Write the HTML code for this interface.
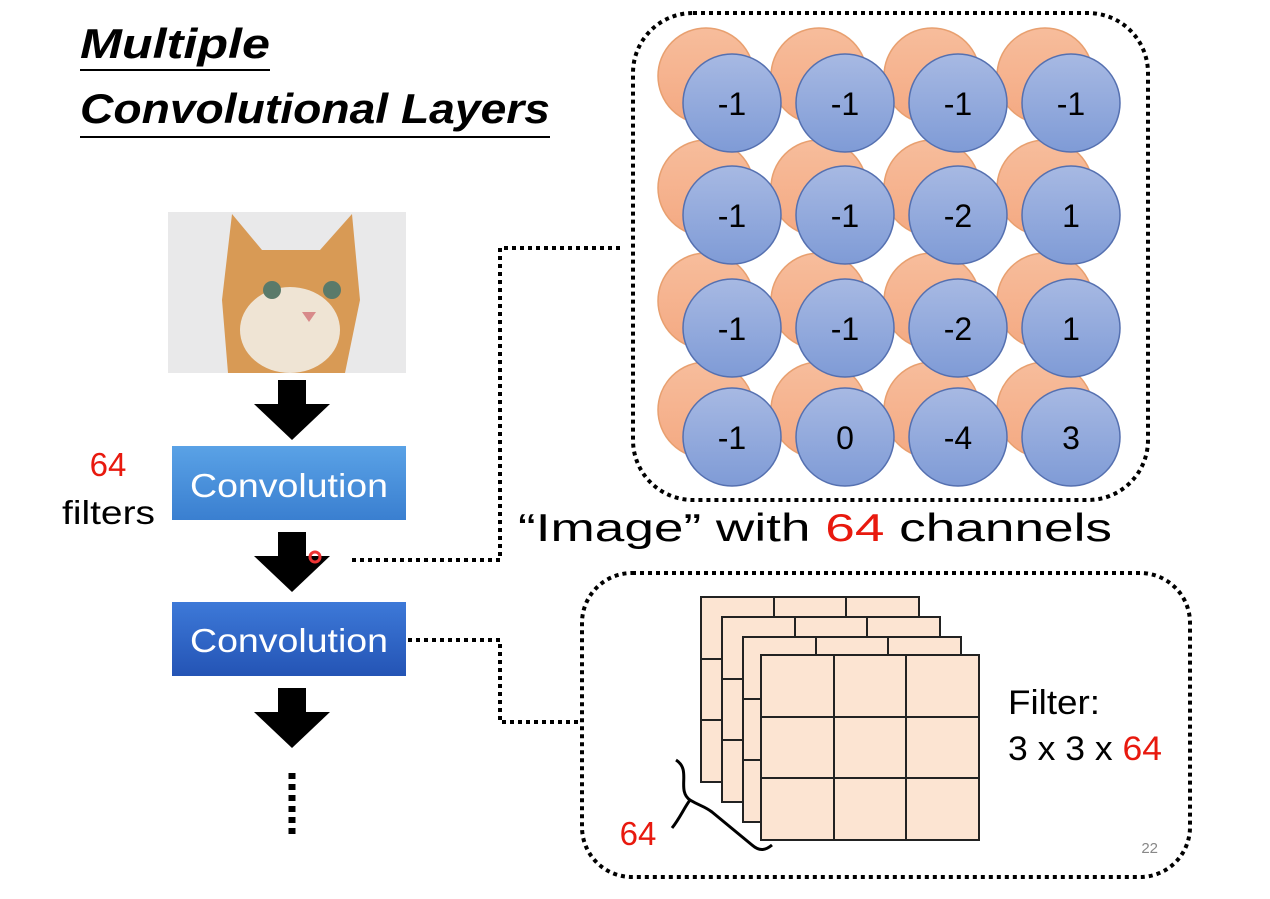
<!DOCTYPE html>
<html><head><meta charset="utf-8"><style>
body{margin:0;width:1270px;height:894px;background:#fff;overflow:hidden;font-family:"Liberation Sans","DejaVu Sans",sans-serif}
</style></head><body>
<svg width="1270" height="894" viewBox="0 0 1270 894" xmlns="http://www.w3.org/2000/svg">
<defs>
<linearGradient id="bg" x1="0" y1="0" x2="0" y2="1"><stop offset="0" stop-color="#a7b9e3"/><stop offset="1" stop-color="#7f9bd6"/></linearGradient>
<linearGradient id="og" x1="0" y1="0" x2="0" y2="1"><stop offset="0" stop-color="#f7bd9c"/><stop offset="1" stop-color="#f4a982"/></linearGradient>
<linearGradient id="cb1" x1="0" y1="0" x2="0" y2="1"><stop offset="0" stop-color="#5aa2e6"/><stop offset="1" stop-color="#3a7fd0"/></linearGradient>
<linearGradient id="cb2" x1="0" y1="0" x2="0" y2="1"><stop offset="0" stop-color="#3d79d8"/><stop offset="1" stop-color="#2454b5"/></linearGradient>
<g id="arr"><rect x="-14" y="0" width="28" height="26" fill="#000"/><polygon points="-38,24 38,24 0,60" fill="#000"/></g>
</defs>
<g font-style="italic" font-weight="bold" font-size="42" fill="#000">
<text x="80" y="58" textLength="190" lengthAdjust="spacingAndGlyphs">Multiple</text>
<line x1="80" y1="70" x2="270" y2="70" stroke="#000" stroke-width="2"/>
<text x="80" y="123" textLength="470" lengthAdjust="spacingAndGlyphs">Convolutional Layers</text>
<line x1="80" y1="137" x2="550" y2="137" stroke="#000" stroke-width="2"/>
</g>
<rect x="168" y="212" width="238" height="161" fill="#e9e9ea"/>
<path d="M232,214 L262,250 L320,250 L352,214 L360,300 L345,373 L228,373 L222,300 Z" fill="#d89a55"/>
<ellipse cx="290" cy="330" rx="50" ry="43" fill="#efe4d4"/>
<circle cx="272" cy="290" r="9" fill="#5a7a6a"/><circle cx="332" cy="290" r="9" fill="#5a7a6a"/>
<polygon points="302,312 316,312 309,322" fill="#d88a8a"/>
<use href="#arr" x="292" y="380"/>
<use href="#arr" x="292" y="532"/>
<use href="#arr" x="292" y="688"/>
<rect x="172" y="446" width="234" height="74" fill="url(#cb1)"/>
<text x="190" y="497" font-size="33" fill="#fff" textLength="198" lengthAdjust="spacingAndGlyphs">Convolution</text>
<rect x="172" y="602" width="234" height="74" fill="url(#cb2)"/>
<text x="190" y="652" font-size="33" fill="#fff" textLength="198" lengthAdjust="spacingAndGlyphs">Convolution</text>
<line x1="292" y1="773" x2="292" y2="835" stroke="#000" stroke-width="7" stroke-dasharray="6,5"/>
<text x="108" y="476" font-size="33" fill="#e8190e" text-anchor="middle">64</text>
<text x="62" y="524" font-size="33" fill="#000" textLength="93" lengthAdjust="spacingAndGlyphs">filters</text>
<circle cx="315" cy="557" r="5" fill="none" stroke="#e33" stroke-width="3"/>
<g fill="none" stroke="#000" stroke-width="4" stroke-dasharray="4,4">
<polyline points="352,560 500,560 500,248 620,248"/>
<polyline points="408,640 500,640 500,722 580,722"/>
<rect x="633" y="13" width="515" height="487" rx="60"/>
<rect x="582" y="573" width="608" height="304" rx="50"/>
</g>
<g stroke="#e8a070" stroke-width="1.5" fill="url(#og)">
<circle cx="706" cy="76" r="48"/><circle cx="819" cy="76" r="48"/><circle cx="932" cy="76" r="48"/><circle cx="1045" cy="76" r="48"/>
<circle cx="706" cy="188" r="48"/><circle cx="819" cy="188" r="48"/><circle cx="932" cy="188" r="48"/><circle cx="1045" cy="188" r="48"/>
<circle cx="706" cy="301" r="48"/><circle cx="819" cy="301" r="48"/><circle cx="932" cy="301" r="48"/><circle cx="1045" cy="301" r="48"/>
<circle cx="706" cy="410" r="48"/><circle cx="819" cy="410" r="48"/><circle cx="932" cy="410" r="48"/><circle cx="1045" cy="410" r="48"/>
</g>
<g stroke="#5570b0" stroke-width="1.5" fill="url(#bg)">
<circle cx="732" cy="103" r="49"/><circle cx="845" cy="103" r="49"/><circle cx="958" cy="103" r="49"/><circle cx="1071" cy="103" r="49"/>
<circle cx="732" cy="215" r="49"/><circle cx="845" cy="215" r="49"/><circle cx="958" cy="215" r="49"/><circle cx="1071" cy="215" r="49"/>
<circle cx="732" cy="328" r="49"/><circle cx="845" cy="328" r="49"/><circle cx="958" cy="328" r="49"/><circle cx="1071" cy="328" r="49"/>
<circle cx="732" cy="437" r="49"/><circle cx="845" cy="437" r="49"/><circle cx="958" cy="437" r="49"/><circle cx="1071" cy="437" r="49"/>
</g>
<g font-size="32" fill="#000" text-anchor="middle">
<text x="732" y="115">-1</text><text x="845" y="115">-1</text><text x="958" y="115">-1</text><text x="1071" y="115">-1</text>
<text x="732" y="227">-1</text><text x="845" y="227">-1</text><text x="958" y="227">-2</text><text x="1071" y="227">1</text>
<text x="732" y="340">-1</text><text x="845" y="340">-1</text><text x="958" y="340">-2</text><text x="1071" y="340">1</text>
<text x="732" y="449">-1</text><text x="845" y="449">0</text><text x="958" y="449">-4</text><text x="1071" y="449">3</text>
</g>
<text x="518" y="541" font-size="39" fill="#000" textLength="594" lengthAdjust="spacingAndGlyphs">“Image” with <tspan fill="#e8190e">64</tspan> channels</text>
<g fill="#fce4d2" stroke="#222" stroke-width="2">
<rect x="701" y="597" width="218" height="185"/><line x1="774" y1="597" x2="774" y2="782"/><line x1="846" y1="597" x2="846" y2="782"/><line x1="701" y1="659" x2="919" y2="659"/><line x1="701" y1="720" x2="919" y2="720"/>
<rect x="722" y="617" width="218" height="185"/><line x1="795" y1="617" x2="795" y2="802"/><line x1="867" y1="617" x2="867" y2="802"/><line x1="722" y1="679" x2="940" y2="679"/><line x1="722" y1="740" x2="940" y2="740"/>
<rect x="743" y="637" width="218" height="185"/><line x1="816" y1="637" x2="816" y2="822"/><line x1="888" y1="637" x2="888" y2="822"/><line x1="743" y1="699" x2="961" y2="699"/><line x1="743" y1="760" x2="961" y2="760"/>
<rect x="761" y="655" width="218" height="185"/><line x1="834" y1="655" x2="834" y2="840"/><line x1="906" y1="655" x2="906" y2="840"/><line x1="761" y1="717" x2="979" y2="717"/><line x1="761" y1="778" x2="979" y2="778"/>
</g>
<path d="M676,760 C692,770 676,790 690,800 C700,806 704,806 712,812 L752,845 C760,852 766,850 772,845 M690,800 C684,808 680,818 672,828" fill="none" stroke="#000" stroke-width="3"/>
<text x="638" y="845" font-size="33" fill="#e8190e" text-anchor="middle">64</text>
<text x="1008" y="714" font-size="34" fill="#000" textLength="92" lengthAdjust="spacingAndGlyphs">Filter:</text>
<text x="1008" y="760" font-size="34" fill="#000" textLength="154" lengthAdjust="spacingAndGlyphs">3 x 3 x <tspan fill="#e8190e">64</tspan></text>
<text x="1158" y="853" font-size="15" fill="#888" text-anchor="end">22</text>
</svg>
</body></html>
